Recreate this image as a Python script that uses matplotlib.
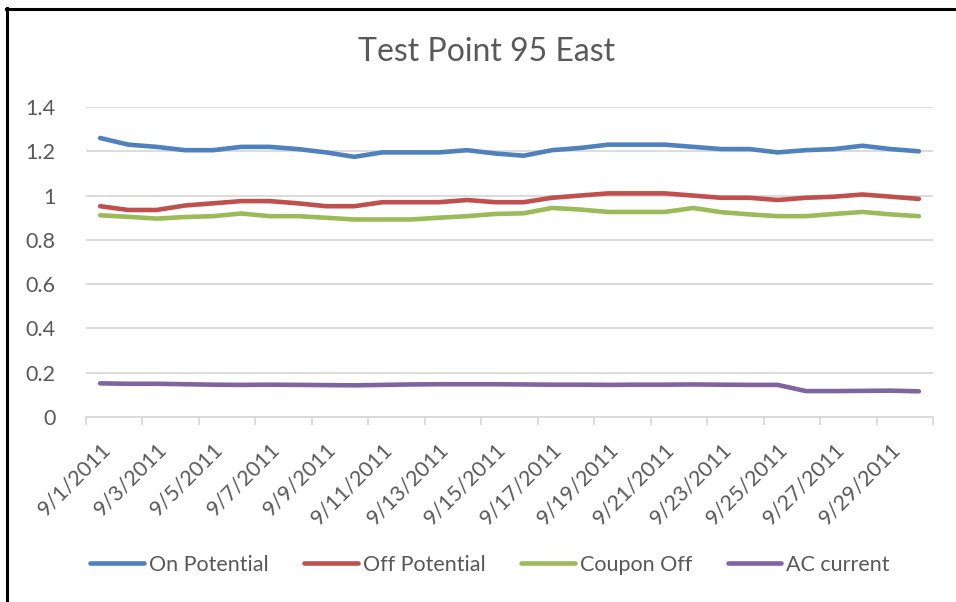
import matplotlib.pyplot as plt
from matplotlib.lines import Line2D
import numpy as np

plt.rcParams['font.family'] = ['Lato', 'DejaVu Sans']

days = [f"9/{d}/2011" for d in range(1, 31)]

onPotential = [1.26, 1.23, 1.22, 1.205, 1.205, 1.22, 1.22, 1.21, 1.195, 1.175,
               1.195, 1.195, 1.195, 1.205, 1.19, 1.18, 1.205, 1.215, 1.23, 1.23,
               1.23, 1.22, 1.21, 1.21, 1.195, 1.205, 1.21, 1.225, 1.21, 1.2]
offPotential = [0.952, 0.935, 0.935, 0.955, 0.965, 0.975, 0.975, 0.965, 0.952, 0.952,
                0.97, 0.97, 0.97, 0.98, 0.97, 0.97, 0.99, 1.0, 1.01, 1.01,
                1.01, 1.0, 0.99, 0.99, 0.98, 0.99, 0.995, 1.005, 0.995, 0.985]
couponOff = [0.911, 0.904, 0.896, 0.903, 0.907, 0.919, 0.907, 0.907, 0.9, 0.892,
             0.892, 0.892, 0.9, 0.907, 0.917, 0.92, 0.944, 0.937, 0.926, 0.926,
             0.926, 0.944, 0.925, 0.915, 0.907, 0.907, 0.917, 0.926, 0.915, 0.907]
acCurrent = [0.152, 0.150, 0.150, 0.148, 0.146, 0.145, 0.146, 0.145, 0.144, 0.143,
             0.145, 0.147, 0.148, 0.148, 0.148, 0.147, 0.146, 0.146, 0.145, 0.146,
             0.146, 0.147, 0.146, 0.145, 0.145, 0.117, 0.117, 0.118, 0.119, 0.116]

names = ["On Potential", "Off Potential", "Coupon Off", "AC current"]
colors = ["#4F81BD", "#C0504D", "#9BBB59", "#8064A2"]
txt = "#595959"
grid = "#D9D9D9"
fs = 15.5

fig = plt.figure(figsize=(9.56, 6.02), dpi=100)
ax = fig.add_axes([86/956, 1-417/602, (933-86)/956, (417-107)/602])

x = np.arange(len(days))
for ys, c, n in zip([onPotential, offPotential, couponOff, acCurrent], colors, names):
    ax.plot(x, ys, color=c, lw=3.3, solid_capstyle='round', solid_joinstyle='round', label=n)

ax.set_xlim(-0.5, len(days) - 0.5)
ax.set_ylim(0, 1.4)
ax.set_yticks(np.arange(0, 1.41, 0.2))
ax.set_yticklabels(["0", "0.2", "0.4", "0.6", "0.8", "1", "1.2", "1.4"])
ax.yaxis.grid(True, color=grid, lw=1.3)
ax.set_axisbelow(True)
ax.tick_params(axis='y', length=0, pad=22, labelsize=fs, labelcolor=txt)

ax.set_xticks(np.arange(-0.5, len(days), 2))
ax.set_xticklabels([])
ax.set_xticks(x[::2], minor=True)
ax.set_xticklabels(days[::2], minor=True, rotation=45, ha='right', va='top',
                   rotation_mode='anchor')
ax.tick_params(axis='x', which='major', length=6, color=grid, width=1.3, direction='out')
ax.tick_params(axis='x', which='minor', length=0, pad=16, labelsize=fs, labelcolor=txt)

for s in ['top', 'right', 'left']:
    ax.spines[s].set_visible(False)
ax.spines['bottom'].set_color(grid)
ax.spines['bottom'].set_linewidth(1.3)

fig.text(487/956, 1-52/602, "Test Point 95 East", ha='center', va='center',
         fontsize=23, color=txt)

handles = [Line2D([], [], color=c, lw=3.3, solid_capstyle='round') for c in colors]
fig.legend(handles, names, loc='center', bbox_to_anchor=(490/956, 1-565/602), ncol=4,
           frameon=False, fontsize=fs, handlelength=2.5, handletextpad=0.23,
           columnspacing=1.65, labelcolor=txt)

# chart border (cropped at right/bottom)
fig.add_artist(Line2D([6/956, 1], [1-8.5/602, 1-8.5/602], color='black', lw=2.2))
fig.add_artist(Line2D([7/956, 7/956], [0, 1-8/602], color='black', lw=2.2))

fig.savefig("out.png", dpi=100, facecolor='white')
